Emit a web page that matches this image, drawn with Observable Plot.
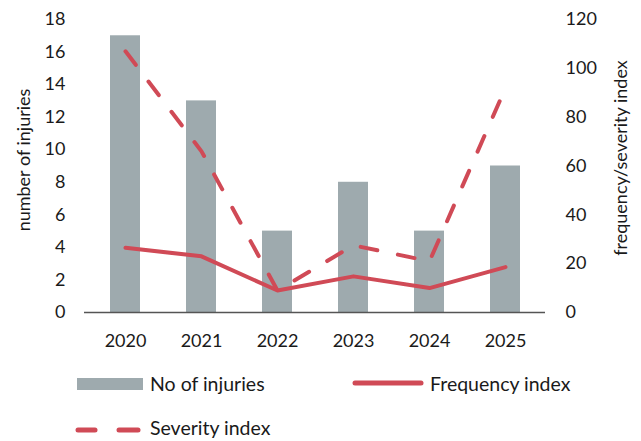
<!DOCTYPE html>
<html>
<head>
<meta charset="utf-8">
<script src="https://cdn.jsdelivr.net/npm/d3@7"></script>
<script src="https://cdn.jsdelivr.net/npm/@observablehq/plot@0.6"></script>
<style>
  body { margin: 0; background: #fff; font-family: Lato, "Open Sans", sans-serif; }
  #wrap { position: relative; width: 641px; height: 441px; overflow: hidden; }
  #legend { position: absolute; left: 0; top: 360px; }
</style>
</head>
<body>
<div id="wrap"><div id="chart"></div><svg id="legend" width="641" height="81"></svg></div>
<script>
const years = ["2020", "2021", "2022", "2023", "2024", "2025"];
const injuries = [17, 13, 5, 8, 5, 9];
const frequencyIndex = [26.5, 23, 9, 14.8, 10, 18.6];
const severityIndex = [107, 66, 9, 27.5, 21, 92];
const leftTicks = [0, 2, 4, 6, 8, 10, 12, 14, 16, 18];
const rightTicks = [0, 20, 40, 60, 80, 100, 120];
const leftLabel = "number of injuries";
const rightLabel = "frequency/severity index";

const scaleR = 18 / 120; // right axis -> left axis units
const barColor = "#9eaaae";
const lineColor = "#d04a56";
const textColor = "#1a1a1a";
const font = "Lato, 'Open Sans', sans-serif";

const rows = years.map((y, i) => ({
  year: y, injuries: injuries[i],
  freq: frequencyIndex[i] * scaleR, sev: severityIndex[i] * scaleR
}));

const plot = Plot.plot({
  width: 641, height: 360,
  marginTop: 19, marginBottom: 48, marginLeft: 84, marginRight: 96,
  style: { fontFamily: font, fontSize: "18px", color: textColor, background: "#fff" },
  x: { domain: years, paddingInner: 0.61, paddingOuter: 0.305, align: 0.5 },
  y: { domain: [0, 18] },
  marks: [
    Plot.axisX({ tickSize: 0, tickPadding: 22, label: null, fontSize: 18 }),
    Plot.axisY(leftTicks, { anchor: "left", tickSize: 0, tickPadding: 19, label: null, fontSize: 18 }),
    Plot.axisY(rightTicks.map(v => v * scaleR), { anchor: "right", tickSize: 0, tickPadding: 20, tickFormat: d => String(Math.round(d / scaleR)), label: null, fontSize: 18 }),
    Plot.text([leftLabel], { text: d => d, frameAnchor: "left", textAnchor: "middle", dx: -60, dy: -6, rotate: -90, fontSize: 18, fill: textColor }),
    Plot.text([rightLabel], { text: d => d, frameAnchor: "right", textAnchor: "middle", dx: 76, dy: -8, rotate: -90, fontSize: 18, fill: textColor }),
    Plot.barY(rows, { x: "year", y: "injuries", fill: barColor }),
    Plot.ruleY([0], { stroke: "#555", strokeWidth: 1.5 }),
    Plot.line(rows, { x: "year", y: "freq", stroke: lineColor, strokeWidth: 4, strokeLinejoin: "round", strokeLinecap: "round" }),
    Plot.line(rows, { x: "year", y: "sev", stroke: lineColor, strokeWidth: 4, strokeDasharray: "17,21", strokeLinecap: "round" })
  ]
});
document.getElementById("chart").appendChild(plot);

// legend
const lg = d3.select("#legend");
lg.append("rect").attr("x", 77).attr("y", 18).attr("width", 66).attr("height", 12).attr("fill", barColor);
lg.append("text").attr("x", 150).attr("y", 24).attr("dy", "0.35em").attr("font-family", font).attr("font-size", 19.5).attr("fill", textColor).text("No of injuries");
lg.append("line").attr("x1", 355).attr("x2", 421).attr("y1", 23).attr("y2", 23).attr("stroke", lineColor).attr("stroke-width", 5).attr("stroke-linecap", "round");
lg.append("text").attr("x", 430).attr("y", 24).attr("dy", "0.35em").attr("font-family", font).attr("font-size", 19.5).attr("fill", textColor).text("Frequency index");
[[78, 95], [119, 138]].forEach(([a, b]) => lg.append("line").attr("x1", a).attr("x2", b).attr("y1", 70).attr("y2", 70).attr("stroke", lineColor).attr("stroke-width", 5).attr("stroke-linecap", "round"));
lg.append("text").attr("x", 150).attr("y", 68).attr("dy", "0.35em").attr("font-family", font).attr("font-size", 19.5).attr("fill", textColor).text("Severity index");
</script>
</body>
</html>
